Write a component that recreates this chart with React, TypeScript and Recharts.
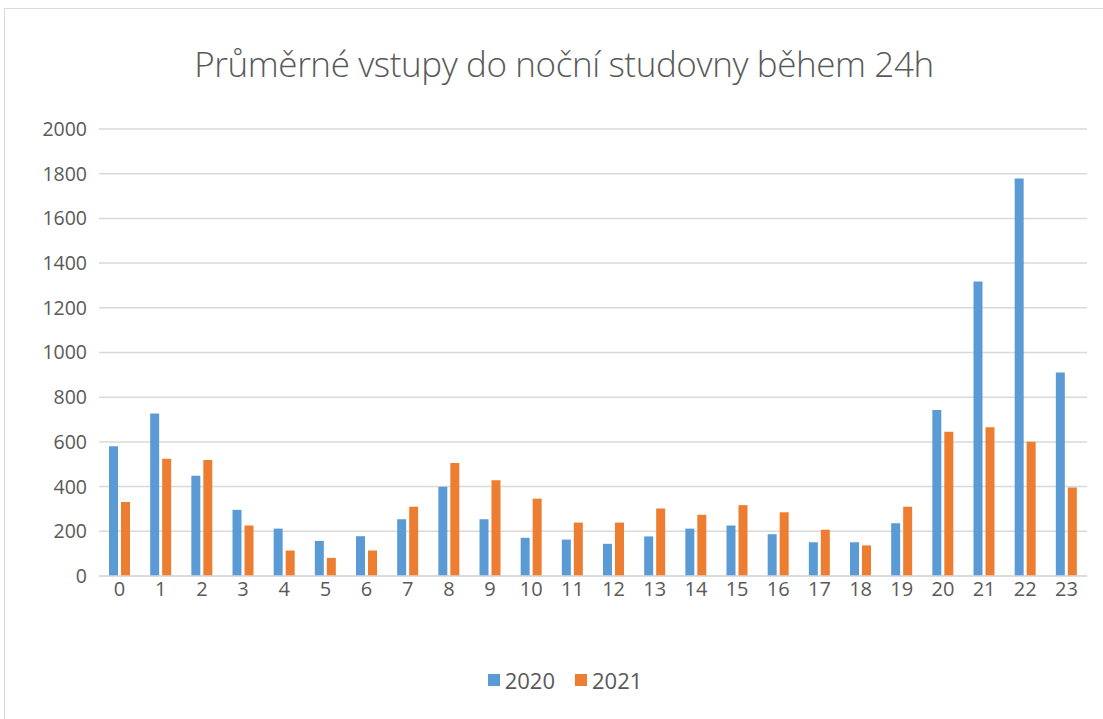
import { BarChart, Bar, XAxis, YAxis, CartesianGrid } from 'recharts';

const hours = ['0', '1', '2', '3', '4', '5', '6', '7', '8', '9', '10', '11', '12', '13', '14', '15', '16', '17', '18', '19', '20', '21', '22', '23'];
const values2020 = [580, 727, 449, 296, 212, 157, 178, 254, 399, 254, 171, 163, 144, 177, 212, 226, 187, 151, 151, 236, 743, 1318, 1778, 910];
const values2021 = [331, 525, 519, 226, 114, 81, 114, 310, 506, 428, 346, 239, 239, 302, 274, 317, 285, 207, 137, 310, 645, 666, 601, 396];
const yTicks = [0, 200, 400, 600, 800, 1000, 1200, 1400, 1600, 1800, 2000];
const seriesNames = ['2020', '2021'];
const seriesColors = ['#5B9BD5', '#ED7D31'];

const data = hours.map((h, i) => ({ hour: h, y2020: values2020[i], y2021: values2021[i] }));

const font = '"Open Sans", sans-serif';
const textColor = '#595959';

export default function App() {
  return (
    <div style={{ position: 'absolute', left: 0, top: 0, width: 1103, height: 719, background: '#fff', overflow: 'hidden', fontFamily: font }}>
      {/* chart area border */}
      <div style={{ position: 'absolute', left: 4, top: 8, width: 1120, height: 730, border: '1px solid #d9d9d9' }} />
      <div style={{ position: 'absolute', left: 0, width: 1128, top: 40, textAlign: 'center', fontSize: 35, fontWeight: 300, color: textColor, letterSpacing: -0.4 }}>
        Průměrné vstupy do noční studovny během 24h
      </div>
      <div style={{ position: 'absolute', left: 0, top: 0 }}>
        <BarChart width={1103} height={719} data={data} margin={{ top: 129, right: 16, left: 39, bottom: 113 }} barSize={9} barGap={3}>
          <CartesianGrid vertical={false} stroke="#d9d9d9" strokeWidth={1.5} />
          <XAxis dataKey="hour" height={30} axisLine={{ stroke: '#d9d9d9', strokeWidth: 1.5 }} tickLine={false} tickMargin={0}
            tick={{ fill: textColor, fontSize: 20, fontFamily: font }} interval={0} />
          <YAxis width={60} domain={[0, 2000]} ticks={yTicks} axisLine={false} tickLine={false} tickMargin={6}
            tick={{ fill: textColor, fontSize: 19.5, fontFamily: font }} />
          <Bar dataKey="y2020" name={seriesNames[0]} fill={seriesColors[0]} isAnimationActive={false} />
          <Bar dataKey="y2021" name={seriesNames[1]} fill={seriesColors[1]} isAnimationActive={false} />
        </BarChart>
      </div>
      <div style={{ position: 'absolute', top: 665, left: 0, width: 1130, display: 'flex', justifyContent: 'center', gap: 20, fontSize: 22, color: textColor }}>
        {seriesNames.map((n, i) => (
          <div key={n} style={{ display: 'flex', alignItems: 'center', gap: 5 }}>
            <span style={{ display: 'inline-block', width: 12, height: 12, background: seriesColors[i] }} />
            <span>{n}</span>
          </div>
        ))}
      </div>
    </div>
  );
}
